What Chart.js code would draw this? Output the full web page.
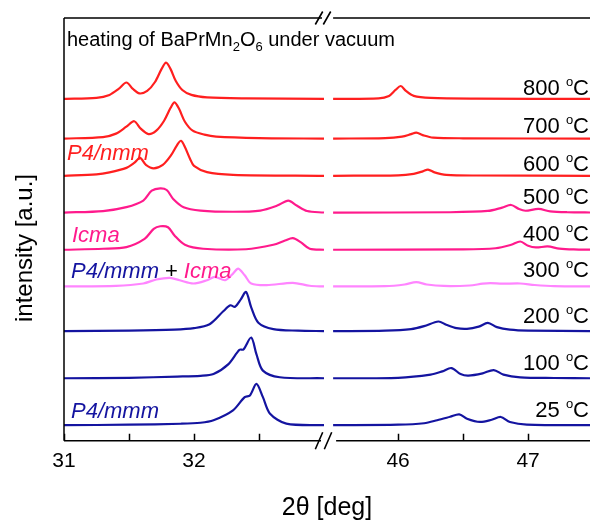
<!DOCTYPE html>
<html>
<head>
<meta charset="utf-8">
<script src="https://cdn.jsdelivr.net/npm/chart.js@4.4.0/dist/chart.umd.min.js"></script>
<style>
    html, body { margin: 0; padding: 0; background: #fff; }
    #wrap { width: 590px; height: 521px; }
</style>
</head>
<body>
<div id="wrap"><canvas id="xrd" width="590" height="521"></canvas></div>
<script>
// ---------- Data ----------
// 2theta [deg] and intensity [a.u.] above each trace's own baseline

const temperatures = [25, 100, 200, 300, 400, 500, 600, 700, 800];
const baselines = [15.7, 63, 110.5, 155.5, 192.5, 230, 267, 304.5, 344.5];
const traceColors = ['#1414a0', '#1414a0', '#1414a0', '#ff85ff', '#ff1a8c', '#ff1a8c', '#ff1f1f', '#ff1f1f', '#ff1f1f'];

const tickValues = [31, 31.5, 32, 32.5, 46, 46.5, 47];
const tickLabels = ['31', '', '32', '', '46', '', '47'];

// low angle window (31 - 33 deg)
const left25 = [[31.00, 0], [31.50, 0.5], [31.90, 1.5], [32.05, 2.5], [32.15, 5], [32.30, 15], [32.39, 28.3], [32.43, 30], [32.48, 41.6], [32.53, 28.3], [32.585, 11.6], [32.71, 1.6], [33.00, 0]];
const left100 = [[31.00, 0], [31.50, 0.5], [31.87, 1.7], [32.05, 2.5], [32.15, 4.3], [32.265, 14.3], [32.35, 28.7], [32.38, 29], [32.44, 41], [32.48, 24.3], [32.53, 7.7], [32.66, 1], [33.00, 0]];
const left200 = [[31.00, 0], [31.50, 0.5], [31.85, 1.5], [32.00, 3], [32.12, 7], [32.225, 20], [32.28, 26], [32.315, 24.5], [32.36, 32], [32.40, 39.5], [32.44, 24], [32.495, 8.5], [32.61, 2], [32.80, 0.5], [33.00, 0]];
const left300 = [[31.00, 0], [31.40, 0.5], [31.61, 3], [31.71, 7], [31.815, 8.7], [31.89, 6.3], [31.995, 3], [32.10, 6.3], [32.16, 9.7], [32.24, 6.3], [32.30, 13], [32.34, 18], [32.39, 11.3], [32.44, 3], [32.56, 1.3], [32.76, 3.7], [32.89, 0.7], [33.00, 0]];
const left400 = [[31.00, 0], [31.30, 1], [31.48, 2.7], [31.62, 11], [31.69, 21], [31.74, 23.7], [31.80, 22.7], [31.85, 14.3], [31.93, 5], [32.07, 1], [32.40, 0.5], [32.61, 5], [32.70, 9.3], [32.76, 11.7], [32.82, 7.7], [32.89, 1], [33.00, 0]];
const left500 = [[31.00, 0], [31.30, 1.5], [31.48, 5.4], [31.61, 12], [31.675, 22], [31.74, 24.4], [31.79, 22.7], [31.84, 13.7], [31.92, 5.4], [32.05, 2], [32.30, 0.8], [32.51, 2], [32.64, 7], [32.725, 12], [32.79, 7], [32.87, 1.5], [33.00, 0]];
const left600 = [[31.00, 0], [31.25, 1.5], [31.35, 3.5], [31.48, 8], [31.54, 13], [31.585, 18], [31.63, 11], [31.69, 7.5], [31.76, 11], [31.82, 20], [31.87, 31], [31.90, 35.3], [31.93, 29], [31.97, 17], [32.00, 10], [32.10, 3.7], [32.30, 1], [33.00, 0]];
const left700 = [[31.00, 0], [31.30, 1.5], [31.40, 5], [31.48, 12], [31.54, 17.5], [31.59, 10], [31.65, 4.5], [31.71, 8], [31.77, 18], [31.82, 31], [31.85, 36.5], [31.885, 30], [31.93, 17], [31.99, 8], [32.08, 4], [32.17, 2], [32.50, 0.5], [33.00, 0]];
const left800 = [[31.00, 0], [31.25, 1], [31.35, 4], [31.42, 10], [31.48, 16.5], [31.53, 10], [31.58, 5.5], [31.64, 8], [31.70, 17], [31.75, 30], [31.785, 36.5], [31.82, 30], [31.86, 18], [31.91, 9], [31.98, 4], [32.10, 1.5], [32.40, 0.5], [33.00, 0]];

// high angle window (45.5 - 47.5 deg)
const right25 = [[45.50, 0], [46.00, 0.5], [46.20, 2], [46.30, 5], [46.40, 8.5], [46.47, 11], [46.53, 6.6], [46.63, 3.3], [46.72, 5.5], [46.79, 8.3], [46.86, 3.3], [46.99, 0.6], [47.50, 0]];
const right100 = [[45.50, 0], [46.00, 0.5], [46.25, 3.7], [46.34, 7], [46.41, 10.3], [46.48, 4.3], [46.54, 2.7], [46.65, 5], [46.735, 8.3], [46.81, 3.7], [46.94, 1], [47.20, 0.3], [47.50, 0]];
const right200 = [[45.50, 0], [45.90, 0.5], [46.10, 2], [46.20, 5], [46.31, 9.7], [46.37, 6.5], [46.45, 3], [46.53, 2.3], [46.62, 4.5], [46.69, 8.3], [46.76, 4], [46.86, 1.5], [47.00, 0.5], [47.50, 0]];
const right300 = [[45.50, 0], [45.90, 0.3], [46.05, 2], [46.14, 4.3], [46.22, 2], [46.35, 0.5], [46.55, 1], [46.65, 2.8], [46.71, 3.3], [46.80, 2.8], [46.94, 3], [47.05, 1.5], [47.20, 0.3], [47.50, 0]];
const right400 = [[45.50, 0], [46.50, 0.3], [46.75, 1.5], [46.87, 5], [46.94, 8.3], [47.00, 4], [47.06, 2.3], [47.15, 3.3], [47.24, 1.2], [47.35, 0.3], [47.50, 0]];
const right500 = [[45.50, 0], [46.40, 0.3], [46.69, 1.6], [46.80, 5], [46.87, 7.6], [46.93, 3.5], [46.98, 1.8], [47.08, 3.6], [47.17, 1.2], [47.30, 0.3], [47.50, 0]];
const right600 = [[45.50, 0], [46.00, 0.5], [46.12, 2], [46.19, 4.5], [46.23, 6.3], [46.28, 3.5], [46.37, 1], [46.60, 0.3], [47.50, 0]];
const right700 = [[45.50, 0], [45.90, 0.5], [46.03, 2], [46.10, 4.5], [46.14, 6], [46.19, 3.5], [46.27, 1], [46.50, 0.3], [47.50, 0]];
const right800 = [[45.50, 0], [45.85, 0.5], [45.93, 3], [45.98, 9], [46.02, 13], [46.06, 8], [46.12, 3], [46.25, 1], [46.60, 0.3], [47.50, 0]];

const leftScans = [left25, left100, left200, left300, left400, left500, left600, left700, left800];
const rightScans = [right25, right100, right200, right300, right400, right500, right600, right700, right800];

// ---------- Broken axis helpers ----------

const AXIS_START = 31;
const BREAK_LOW = 33.0;
const BREAK_HIGH = 45.5;
const GAP = 0.07;            // empty width between the two windows, axis units
const AXIS_END = 4.046;      // right edge of the plot, axis units

function toAxis(twoTheta) {
    if (twoTheta <= BREAK_LOW) return twoTheta - AXIS_START;
    return twoTheta - BREAK_HIGH + (BREAK_LOW - AXIS_START) + GAP;
}

function buildDatasets() {
    return temperatures.map((t, i) => {
        const base = baselines[i];
        const pts = leftScans[i].map(([tt, v]) => ({ x: toAxis(tt), y: base + v }));
        pts.push({ x: toAxis(BREAK_LOW) + GAP / 2, y: null });
        rightScans[i].forEach(([tt, v]) => pts.push({ x: toAxis(tt), y: base + v }));
        return {
            label: t + ' °C',
            data: pts,
            borderColor: traceColors[i],
            borderWidth: 2.2,
            pointRadius: 0,
            tension: 0.3,
            fill: false,
            spanGaps: false
        };
    });
}

// ---------- Plugins ----------

const FONT = '"Liberation Sans", Arial, Helvetica, sans-serif';

const framePlugin = {
    id: 'frame',
    afterDatasetsDraw(chart) {
        const { ctx, chartArea: a, scales: { x } } = chart;
        const bL = x.getPixelForValue(toAxis(BREAK_LOW));
        const bR = x.getPixelForValue(toAxis(BREAK_HIGH));
        ctx.save();
        ctx.strokeStyle = '#000';
        ctx.lineWidth = 1.5;
        ctx.beginPath();
        ctx.moveTo(a.left, a.top);
        ctx.lineTo(a.left, a.bottom);
        ctx.moveTo(a.left, a.top);
        ctx.lineTo(bL - 2, a.top);
        ctx.moveTo(bR, a.top);
        ctx.lineTo(a.right, a.top);
        ctx.moveTo(a.left, a.bottom);
        ctx.lineTo(bL - 3, a.bottom);
        ctx.moveTo(bR + 3, a.bottom);
        ctx.lineTo(a.right, a.bottom);
        x.ticks.forEach(tk => {
            const px = Math.round(x.getPixelForValue(tk.value)) + 0.5;
            ctx.moveTo(px, a.bottom);
            ctx.lineTo(px, a.bottom - 7);
        });
        ctx.stroke();

        // break marks
        ctx.lineWidth = 1.6;
        ctx.beginPath();
        [[bL - 5, a.top, 6.5], [bL + 3, a.top, 6.5], [bL - 5, a.bottom, 8.5], [bL + 4, a.bottom, 8.5]].forEach(([cx, cy, h]) => {
            ctx.moveTo(cx - 3.7, cy + h);
            ctx.lineTo(cx + 3.7, cy - h);
        });
        ctx.stroke();
        ctx.restore();
    }
};

function drawRuns(ctx, runs, x, y) {
    runs.forEach(r => {
        ctx.font = r.font;
        ctx.fillStyle = r.color || '#000';
        ctx.fillText(r.text, x, y + (r.dy || 0));
        x += ctx.measureText(r.text).width + (r.after || 0);
    });
    return x;
}

const labelLift = [8.3, 8, 8.5, 9, 9, 8.7, 5.3, 5.5, 3.5];

const textPlugin = {
    id: 'texts',
    afterDraw(chart) {
        const { ctx, scales: { y } } = chart;
        ctx.save();
        ctx.textBaseline = 'alphabetic';
        ctx.textAlign = 'left';

        // title inside plot
        const big = '20px ' + FONT;
        const sub = '13px ' + FONT;
        drawRuns(ctx, [
            { text: 'heating of BaPrMn', font: big },
            { text: '2', font: sub, dy: 5 },
            { text: 'O', font: big },
            { text: '6', font: sub, dy: 5 },
            { text: ' under vacuum', font: big }
        ], 67, 46);

        // temperature labels
        const rightEdge = 589;
        temperatures.forEach((t, i) => {
            const base = y.getPixelForValue(baselines[i]) - labelLift[i];
            ctx.font = '22px ' + FONT;
            ctx.fillStyle = '#000';
            const wC = ctx.measureText('C').width;
            const xC = rightEdge - wC;
            ctx.fillText('C', xC, base);
            ctx.font = '13px ' + FONT;
            const wo = ctx.measureText('o').width;
            const xo = xC - wo;
            ctx.fillText('o', xo, base - 9);
            ctx.font = '22px ' + FONT;
            const num = t + ' ';
            ctx.fillText(num, xo - ctx.measureText(num).width, base);
        });

        // phase labels
        const it = 'italic 22px ' + FONT;
        const plain = '22px ' + FONT;
        drawRuns(ctx, [{ text: 'P4/nmm', font: it, color: traceColors[6] }], 67, 160);
        drawRuns(ctx, [{ text: 'Icma', font: it, color: traceColors[4] }], 72, 242);
        drawRuns(ctx, [
            { text: 'P4/mmm', font: it, color: traceColors[0], after: 6 },
            { text: '+', font: plain, color: '#000', after: 6 },
            { text: 'Icma', font: it, color: traceColors[4] }
        ], 71, 278);
        drawRuns(ctx, [{ text: 'P4/mmm', font: it, color: traceColors[0] }], 71, 418);

        // y axis title
        ctx.translate(32, 248);
        ctx.rotate(-Math.PI / 2);
        ctx.textAlign = 'center';
        ctx.font = '24px ' + FONT;
        ctx.fillStyle = '#000';
        ctx.fillText('intensity [a.u.]', 0, 0);
        ctx.restore();
    }
};

// ---------- Chart ----------

function createChart() {
    const ctx = document.getElementById('xrd').getContext('2d');
    return new Chart(ctx, {
        type: 'line',
        data: { datasets: buildDatasets() },
        options: {
            responsive: false,
            animation: false,
            layout: { padding: { left: 64, right: 0, top: 18, bottom: 0 } },
            plugins: {
                legend: { display: false },
                tooltip: { enabled: false }
            },
            scales: {
                x: {
                    type: 'linear',
                    min: 0,
                    max: AXIS_END,
                    grid: { display: false, drawTicks: false },
                    border: { display: false },
                    afterBuildTicks: scale => {
                        scale.ticks = tickValues.map(v => ({ value: toAxis(v) }));
                    },
                    ticks: {
                        autoSkip: false,
                        maxRotation: 0,
                        padding: 8,
                        color: '#000',
                        font: { family: FONT, size: 21 },
                        callback: (value, index) => tickLabels[index]
                    },
                    title: {
                        display: true,
                        text: '2θ [deg]',
                        color: '#000',
                        font: { family: FONT, size: 25, lineHeight: 1 },
                        padding: { top: 14, bottom: 0 }
                    }
                },
                y: {
                    display: false,
                    min: 0,
                    max: 426
                }
            }
        },
        plugins: [framePlugin, textPlugin]
    });
}

document.addEventListener('DOMContentLoaded', createChart);
</script>
</body>
</html>
